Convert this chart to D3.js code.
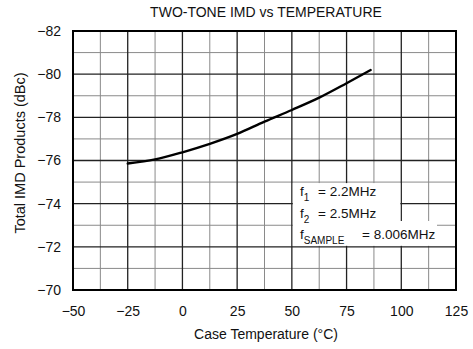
<!DOCTYPE html>
<html>
<head>
<meta charset="utf-8">
<script src="https://cdn.jsdelivr.net/npm/d3@7"></script>
<style>
  html, body { margin: 0; padding: 0; background: #fff; }
  svg { display: block; font-family: "Liberation Sans", Arial, Helvetica, sans-serif; }
</style>
</head>
<body>
<svg id="chart" width="473" height="349"></svg>
<script>
// ---- data ----
const temperature = [-25, -12.5, 0, 12.5, 25, 37.5, 50, 62.5, 75, 86];
const imd = [-75.86, -76.05, -76.38, -76.77, -77.23, -77.8, -78.34, -78.91, -79.58, -80.19];
const xTicks = [-50, -25, 0, 25, 50, 75, 100, 125];
const yTicks = [-82, -80, -78, -76, -74, -72, -70];
const xMinor = [-37.5, -12.5, 12.5, 37.5, 62.5, 87.5, 112.5];
const yMinor = [-81, -79, -77, -75, -73, -71];
const title = "TWO-TONE IMD vs TEMPERATURE";
const xTitle = "Case Temperature (°C)";
const yTitle = "Total IMD Products (dBc)";
const legendLines = [
  { base: "f", sub: "1", rest: "= 2.2MHz" },
  { base: "f", sub: "2", rest: "= 2.5MHz" },
  { base: "f", sub: "SAMPLE", rest: "= 8.006MHz" }
];

// ---- layout ----
const svg = d3.select("#chart");
const L = 73, R = 456, T = 31, B = 290;
const x = d3.scaleLinear().domain([-50, 125]).range([L, R]);
const y = d3.scaleLinear().domain([-82, -70]).range([T, B]);
const fmt = v => (v < 0 ? "\u2212" + Math.abs(v) : String(v));

// title
svg.append("text").attr("x", 266).attr("y", 17).attr("text-anchor", "middle")
  .attr("font-size", 14).attr("fill", "#111").text(title);

// grid: minor
const g = svg.append("g");
g.selectAll(".vmin").data(xMinor).join("line")
  .attr("x1", d => x(d)).attr("x2", d => x(d)).attr("y1", T).attr("y2", B)
  .attr("stroke", "#8a8a8a").attr("stroke-width", 1);
g.selectAll(".hmin").data(yMinor).join("line")
  .attr("x1", L).attr("x2", R).attr("y1", d => y(d)).attr("y2", d => y(d))
  .attr("stroke", "#8a8a8a").attr("stroke-width", 1);
// grid: major
g.selectAll(".vmaj").data(xTicks).join("line")
  .attr("x1", d => x(d)).attr("x2", d => x(d)).attr("y1", T).attr("y2", B)
  .attr("stroke", "#222").attr("stroke-width", 1.3);
g.selectAll(".hmaj").data(yTicks).join("line")
  .attr("x1", L).attr("x2", R).attr("y1", d => y(d)).attr("y2", d => y(d))
  .attr("stroke", "#222").attr("stroke-width", 1.3);

// axes (labels only) via d3 axes
const xAxis = svg.append("g").attr("transform", `translate(0,${B})`)
  .call(d3.axisBottom(x).tickValues(xTicks).tickFormat(fmt).tickSize(0).tickPadding(16));
xAxis.select(".domain").remove();
xAxis.selectAll("text").attr("font-size", 14).attr("fill", "#111")
  .attr("font-family", "Liberation Sans, Arial, sans-serif");

const yAxis = svg.append("g").attr("transform", `translate(${L},0)`)
  .call(d3.axisLeft(y).tickValues(yTicks).tickFormat(fmt).tickSize(0).tickPadding(12));
yAxis.select(".domain").remove();
yAxis.selectAll("text").attr("font-size", 14).attr("fill", "#111")
  .attr("font-family", "Liberation Sans, Arial, sans-serif");

// axis titles
svg.append("text").attr("x", 266).attr("y", 339).attr("text-anchor", "middle")
  .attr("font-size", 14).attr("fill", "#111").text(xTitle);
svg.append("text").attr("transform", `translate(25,153) rotate(-90)`)
  .attr("text-anchor", "middle").attr("font-size", 14.5).attr("fill", "#111").text(yTitle);

// curve
const line = d3.line().x((d, i) => x(temperature[i])).y(d => y(d)).curve(d3.curveMonotoneX);
svg.append("path").attr("d", line(imd)).attr("fill", "none")
  .attr("stroke", "#000").attr("stroke-width", 2.4).attr("stroke-linecap", "round");

// legend box
svg.append("rect").attr("x", x(50) + 1).attr("y", y(-75) + 1)
  .attr("width", x(100) - x(50) - 2).attr("height", y(-72) - y(-75) - 2).attr("fill", "#fff");
svg.append("rect").attr("x", x(100) - 2).attr("y", 221)
  .attr("width", 437 - x(100) + 2).attr("height", y(-72) - 221 - 1).attr("fill", "#fff");

const lg = svg.append("g").attr("font-size", 13.5).attr("fill", "#111");
const baseY = [196, 218, 239];
legendLines.forEach((d, i) => {
  const t = lg.append("text").attr("x", 300).attr("y", baseY[i]);
  t.append("tspan").text(d.base);
  t.append("tspan").attr("font-size", 10).attr("dy", 5).text(d.sub);
  lg.append("text").attr("x", i === 2 ? 362 : 318).attr("y", baseY[i]).text(d.rest);
});

// plot border
svg.append("rect").attr("x", L).attr("y", T).attr("width", R - L).attr("height", B - T)
  .attr("fill", "none").attr("stroke", "#000").attr("stroke-width", 2);
</script>
</body>
</html>
